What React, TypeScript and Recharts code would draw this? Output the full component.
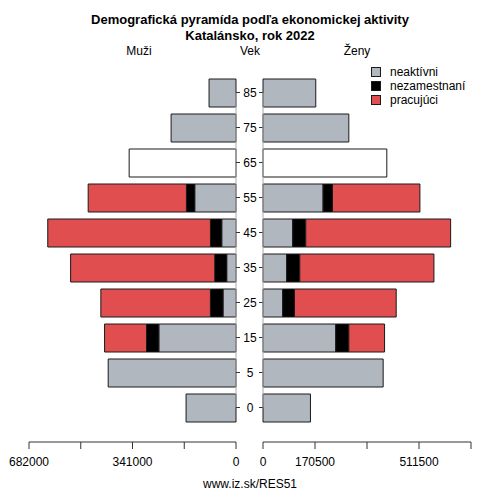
import React from 'react';
import { BarChart, Bar, XAxis, YAxis, ReferenceLine } from 'recharts';

const ages = ['85', '75', '65', '55', '45', '35', '25', '15', '5', '0'];

// muži
const menInactive = [88800, 213800, 0, 136000, 47000, 30600, 42800, 254300, 421100, 164500];
const menUnemployed = [0, 0, 0, 27300, 37200, 39500, 41500, 40500, 0, 0];
const menEmployed = [0, 0, 0, 323700, 536000, 474800, 361000, 138200, 0, 0];
const menUnknown = [0, 0, 352000, 0, 0, 0, 0, 0, 0, 0];

// ženy
const womenInactive = [173000, 281400, 0, 197000, 97500, 77800, 64700, 238700, 394000, 155600];
const womenUnemployed = [0, 0, 0, 30800, 42700, 42700, 38400, 42700, 0, 0];
const womenEmployed = [0, 0, 0, 286700, 475000, 440000, 333700, 117200, 0, 0];
const womenUnknown = [0, 0, 406000, 0, 0, 0, 0, 0, 0, 0];

const xTicks = [0, 170500, 341000, 511500, 682000];
const leftTickLabels = [0, 341000, 682000];
const rightTickLabels = [0, 170500, 511500];

const GRAY = '#b1b7bf';
const BLACK = '#000000';
const RED = '#e04e4f';
const EDGE = '#1a1a1a';
const FONT = '"Liberation Sans", Arial, Helvetica, sans-serif';

const menData = ages.map((age, i) => ({
  age,
  neaktivni: menInactive[i],
  nezamestnani: menUnemployed[i],
  pracujuci: menEmployed[i],
  spolu: menUnknown[i],
}));

const womenData = ages.map((age, i) => ({
  age,
  neaktivni: womenInactive[i],
  nezamestnani: womenUnemployed[i],
  pracujuci: womenEmployed[i],
  spolu: womenUnknown[i],
}));

const tickStyle = { fontSize: 12, fill: '#000', fontFamily: FONT };

// age label with small dashes on both sides
const AgeTick = ({ y, payload }: any) => (
  <g>
    <line x1={236} x2={240} y1={y} y2={y} stroke="#333" />
    <text x={250} y={y} dy="0.35em" textAnchor="middle" fontSize={12} fontFamily={FONT} fill="#000">
      {payload.value}
    </text>
    <line x1={259} x2={263} y1={y} y2={y} stroke="#333" />
  </g>
);

const legendItems = [
  { label: 'neaktívni', color: GRAY },
  { label: 'nezamestnaní', color: BLACK },
  { label: 'pracujúci', color: RED },
];

const bars = [
  <Bar key="n" dataKey="neaktivni" stackId="a" fill={GRAY} stroke={EDGE} strokeWidth={1} barSize={28} isAnimationActive={false} />,
  <Bar key="z" dataKey="nezamestnani" stackId="a" fill={BLACK} stroke={EDGE} strokeWidth={1} barSize={28} isAnimationActive={false} />,
  <Bar key="p" dataKey="pracujuci" stackId="a" fill={RED} stroke={EDGE} strokeWidth={1} barSize={28} isAnimationActive={false} />,
  <Bar key="s" dataKey="spolu" stackId="a" fill="#ffffff" stroke={EDGE} strokeWidth={1} barSize={28} isAnimationActive={false} />,
];

const centerLine = (
  <ReferenceLine
    segment={[
      { x: 0, y: ages[0] },
      { x: 0, y: ages[ages.length - 1] },
    ]}
    stroke="#aaaaaa"
  />
);

export default function App() {
  return (
    <div style={{ position: 'absolute', left: 0, top: 0, width: 500, height: 500, background: '#fff', fontFamily: FONT }}>
      <div style={{ position: 'absolute', top: 12, width: 500, textAlign: 'center', fontWeight: 'bold', fontSize: 13, lineHeight: '16px' }}>
        Demografická pyramída podľa ekonomickej aktivity
        <br />
        Katalánsko, rok 2022
      </div>
      <div style={{ position: 'absolute', top: 44, left: 0, width: 278, textAlign: 'center', fontSize: 12 }}>Muži</div>
      <div style={{ position: 'absolute', top: 44, left: 200, width: 100, textAlign: 'center', fontSize: 12 }}>Vek</div>
      <div style={{ position: 'absolute', top: 44, left: 307, width: 100, textAlign: 'center', fontSize: 12 }}>Ženy</div>

      <div style={{ position: 'absolute', left: 0, top: 0 }}>
        <BarChart width={263} height={500} data={menData} layout="vertical" margin={{ top: 75, right: 0, bottom: 28, left: 29 }}>
          <XAxis
            type="number"
            domain={[0, 682000]}
            reversed
            ticks={xTicks}
            tickFormatter={(v: number) => (leftTickLabels.includes(v) ? String(v) : '')}
            tick={tickStyle}
            tickSize={7}
            tickMargin={8}
            height={30}
            stroke="#333"
            interval={0}
          />
          <YAxis
            type="category"
            dataKey="age"
            orientation="right"
            width={27}
            axisLine={false}
            tickLine={false}
            tick={<AgeTick />}
            padding={{ top: 0, bottom: 17 }}
            interval={0}
          />
          {centerLine}
          {bars}
        </BarChart>
      </div>

      <div style={{ position: 'absolute', left: 250, top: 0 }}>
        <BarChart width={250} height={500} data={womenData} layout="vertical" margin={{ top: 75, right: 29, bottom: 28, left: 13 }}>
          <XAxis
            type="number"
            domain={[0, 682000]}
            ticks={xTicks}
            tickFormatter={(v: number) => (rightTickLabels.includes(v) ? String(v) : '')}
            tick={tickStyle}
            tickSize={7}
            tickMargin={8}
            height={30}
            stroke="#333"
            interval={0}
          />
          <YAxis type="category" dataKey="age" hide padding={{ top: 0, bottom: 17 }} />
          {centerLine}
          {bars}
        </BarChart>
      </div>

      <div style={{ position: 'absolute', top: 65, left: 371, fontSize: 12, lineHeight: '14px' }}>
        {legendItems.map((it) => (
          <div key={it.label} style={{ display: 'flex', alignItems: 'center', height: 14 }}>
            <span
              style={{
                display: 'inline-block',
                width: 8,
                height: 8,
                background: it.color,
                border: `1px solid ${EDGE}`,
                marginRight: 9,
              }}
            />
            <span>{it.label}</span>
          </div>
        ))}
      </div>

      <div style={{ position: 'absolute', top: 477, width: 500, textAlign: 'center', fontSize: 12 }}>www.iz.sk/RES51</div>
    </div>
  );
}
